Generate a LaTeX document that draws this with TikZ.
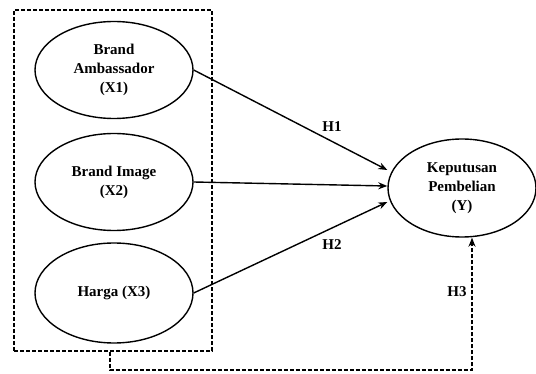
\documentclass[tikz,border=0pt]{standalone}
\usepackage{fontspec}
\setmainfont{Liberation Serif}
\usetikzlibrary{arrows.meta,shapes.geometric}
\begin{document}
\begin{tikzpicture}[x=1pt,y=-1pt,
  lat/.style={draw,line width=1.4pt,ellipse,minimum width=158pt,minimum height=97pt,inner sep=0pt,align=center,font=\fontsize{15}{19}\selectfont\bfseries},
  conn/.style={line width=1.4pt,-{Stealth[length=9pt,width=7pt]}},
  dsh/.style={line width=1.4pt,dash pattern=on 4pt off 2pt},
  lbl/.style={font=\fontsize{15}{17}\selectfont\bfseries,inner sep=1pt}]
\useasboundingbox (0,0) rectangle (536,374);
\node[lat] (x1) at (114,70) {Brand\\Ambassador\\(X1)};
\node[lat] (x2) at (114,182) {Brand Image\\(X2)};
\node[lat,minimum height=100pt] (x3) at (114,293) {Harga (X3)};
\node[lat,minimum width=148pt,minimum height=98pt] (y) at (462,188) {Keputusan\\Pembelian\\(Y)};
\node[draw,dsh,minimum width=198pt,minimum height=341pt,inner sep=0pt] (box) at (113,180.5) {};
\draw[conn] (x1.east) -- (y.west |- 0,170) coordinate (t1);
\draw[conn] (x2.east) -- (y.west |- 0,186);
\draw[conn] (x3.east) -- (y.west |- 0,202);
\coordinate (c1) at (110,370);
\coordinate (c2) at (472,370);
\draw[dsh,-{Stealth[length=9pt,width=7pt]}] (box.south -| c1) -- (c1) -- (c2) -- (y.south -| c2);
\node[lbl] (h1) at (332,127) {H1};
\node[lbl] (h2) at (332,245) {H2};
\node[lbl] (h3) at (457,292) {H3};
\end{tikzpicture}
\end{document}
